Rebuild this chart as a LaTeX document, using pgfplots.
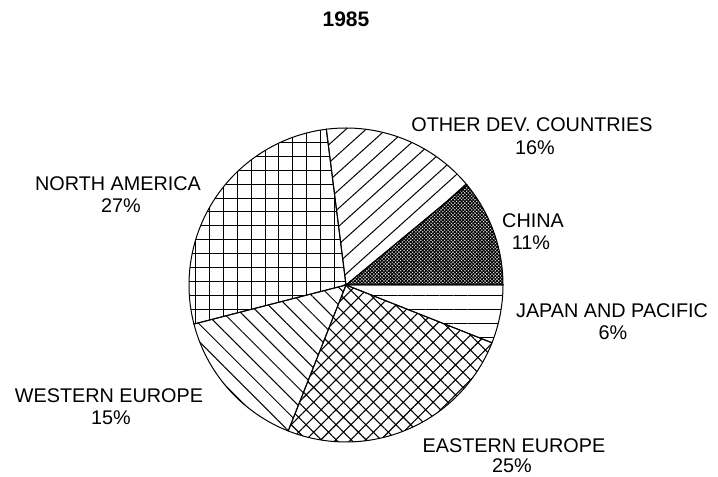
\documentclass[border=0pt]{standalone}
\usepackage{pgfplots}
\pgfplotsset{compat=1.18}
\usepackage{pgfplotstable}
\usepackage{fontspec}
\setmainfont{Liberation Sans}
\usetikzlibrary{patterns.meta}

\pgfplotstableread{
label pct
China 11
OtherDev 16
NorthAmerica 27
WesternEurope 15
EasternEurope 25
JapanPacific 6
}\piedata

\tikzset{
 slice0/.style={pattern={Hatch[angle=45,distance=2.4pt,line width=1.1pt]}},
 slice1/.style={pattern={Lines[angle=42,distance=13.5pt,line width=1pt]}},
 slice2/.style={pattern={Hatch[angle=0,distance=14pt,line width=1pt]}},
 slice3/.style={pattern={Lines[angle=-45,distance=12.5pt,line width=1pt]}},
 slice4/.style={pattern={Hatch[angle=45,distance=10.6pt,line width=1.1pt]}},
 slice5/.style={pattern={Lines[angle=0,distance=14pt,line width=1pt]}},
 lbl/.style={anchor=base, inner sep=0pt, font=\fontsize{19.8bp}{22bp}\selectfont},
}

\begin{document}
\begin{tikzpicture}[x=1bp,y=1bp]
\useasboundingbox (0,0) rectangle (718,477);
\coordinate (pc) at (346,192);
\begin{axis}[at={(pc)}, anchor=center, hide axis, clip=false,
  x=157bp, y=157bp, xmin=-1, xmax=1, ymin=-1, ymax=1]
\def\cum{0}
\pgfplotsforeachungrouped \i in {0,...,5}{%
  \pgfplotstablegetelem{\i}{pct}\of\piedata
  \pgfmathsetmacro\a{\cum*3.6}%
  \pgfmathsetmacro\b{(\cum+\pgfplotsretval)*3.6}%
  \pgfmathsetmacro\cum{\cum+\pgfplotsretval}%
  \edef\cmd{\noexpand\draw[slice\i, line width=1bp] (axis cs:0,0) -- (axis cs:{cos(\a)},{sin(\a)}) arc[start angle=\a, end angle=\b, radius=157bp] -- cycle;}%
  \cmd
}
\end{axis}
\node[anchor=base, inner sep=0pt, font=\bfseries\fontsize{21bp}{24bp}\selectfont] at (346,450) {1985};
\node[lbl] at (532,345) {OTHER DEV. COUNTRIES};
\node[lbl] at (535,322) {16\%};
\node[lbl] at (118,286) {NORTH AMERICA};
\node[lbl] at (121,264) {27\%};
\node[lbl] at (533,249) {CHINA};
\node[lbl] at (531,227) {11\%};
\node[lbl] at (612,159) {JAPAN AND PACIFIC};
\node[lbl] at (613,137) {6\%};
\node[lbl] at (109,74) {WESTERN EUROPE};
\node[lbl] at (111,52) {15\%};
\node[lbl] at (514,24) {EASTERN EUROPE};
\node[lbl] at (512,4) {25\%};
\end{tikzpicture}
\end{document}
